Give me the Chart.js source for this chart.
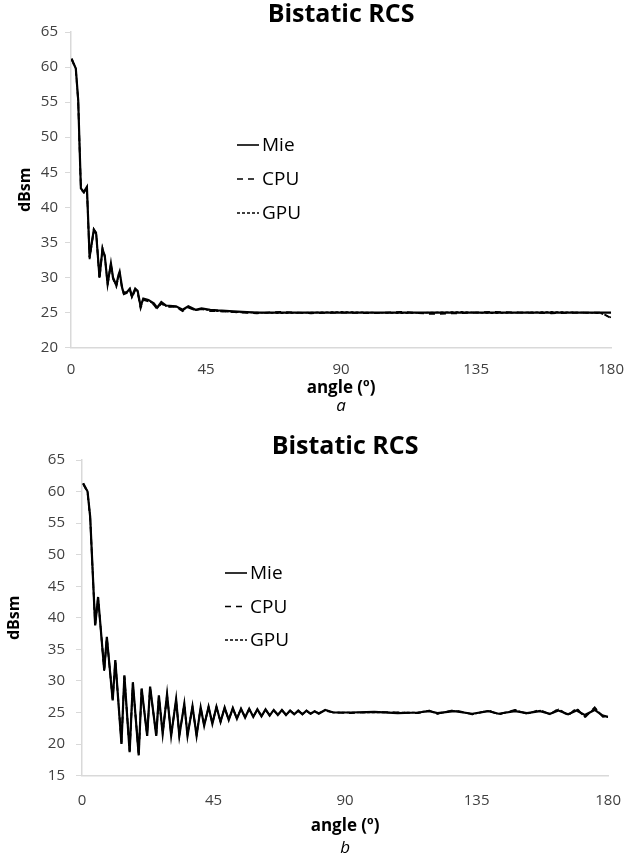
<!DOCTYPE html>
<html>
<head>
<meta charset="utf-8">
<script src="https://cdn.jsdelivr.net/npm/chart.js@4/dist/chart.umd.min.js"></script>
<style>
  body { margin: 0; background: #fff; }
  .box { position: absolute; left: 0; width: 637px; }
  #boxA { top: 0; height: 420px; }
  #boxB { top: 420px; height: 439px; }
</style>
</head>
<body>
<div class="box" id="boxA"><canvas id="chartA"></canvas></div>
<div class="box" id="boxB"><canvas id="chartB"></canvas></div>
<script>
// panel a
const anglesA = [0.2, 1.6, 2.4, 2.9, 3.3, 4.3, 5.3, 6.2, 7.6, 8.4, 9.5, 10.5, 11.3, 12.2, 13.3, 14.0, 15.1, 15.8, 16.2, 17.1,
  17.6, 18.6, 19.6, 20.3, 21.4, 22.2, 23.2, 24.1, 25.8, 27.6, 28.7, 30.1, 31.7, 35.0, 37.2, 39.1, 41.5, 43.5, 46.4, 49,
  52.8, 57, 62, 70, 80, 90, 100, 110, 120, 130, 140, 150, 160, 170, 176.5, 180];
const mieA = [61.2, 59.8, 55.3, 48.1, 42.7, 42.2, 42.9, 32.9, 36.8, 36.2, 30.0, 34.1, 32.9, 29.1, 32.0, 30.0, 28.9, 30.3, 30.8, 28.4,
  27.8, 27.9, 28.4, 27.3, 28.4, 28.1, 25.9, 27.0, 26.8, 26.3, 25.7, 26.5, 26.0, 25.9, 25.4, 25.9, 25.4, 25.6, 25.4, 25.3,
  25.2, 25.1, 25.0, 25.0, 25.0, 25.0, 25.0, 25.0, 25.0, 25.0, 25.0, 25.0, 25.0, 25.0, 25.0, 25.0];
const cpuA = [61.1, 59.7, 55.1, 48.0, 42.6, 42.1, 42.8, 32.6, 36.9, 36.4, 29.8, 34.2, 33.1, 28.9, 31.9, 29.8, 28.7, 30.1, 30.6, 28.2,
  27.6, 27.8, 28.3, 27.1, 28.2, 27.9, 25.6, 26.8, 26.6, 26.1, 25.5, 26.3, 25.8, 25.8, 25.2, 25.7, 25.3, 25.5, 25.2, 25.2,
  25.1, 25.0, 24.9, 25.1, 24.9, 25.0, 24.9, 25.1, 24.8, 24.9, 25.1, 25.0, 24.9, 25.0, 25.0, 24.2];
const gpuA = [61.2, 59.8, 55.2, 48.1, 42.7, 42.2, 42.9, 32.8, 36.7, 36.3, 29.9, 34.0, 33.0, 29.0, 32.1, 29.9, 28.8, 30.2, 30.7, 28.3,
  27.7, 27.9, 28.4, 27.2, 28.3, 28.0, 25.7, 26.9, 26.7, 26.2, 25.6, 26.4, 25.9, 25.8, 25.3, 25.8, 25.3, 25.5, 25.3, 25.2,
  25.1, 25.0, 25.0, 24.9, 25.0, 25.1, 25.0, 24.9, 25.0, 25.1, 24.9, 25.0, 25.1, 25.0, 24.9, 24.3];

// panel b
const anglesB = [0.4, 1.9, 2.8, 4.5, 5.5, 7.6, 8.5, 10.5, 11.4, 13.5, 14.5, 16.3, 17.4, 19.4, 20.4, 22.3, 23.3, 25.4, 26.3, 27.6,
  29.1, 30.5, 32.2, 33.3, 35.0, 36.1, 37.8, 39.2, 40.6, 41.8, 43.3, 44.6, 46.0, 47.4, 48.8, 50.2, 51.6, 53.0, 54.4, 55.8,
  57.2, 58.6, 60.0, 61.4, 62.8, 64.2, 65.6, 67.0, 68.4, 69.8, 71.2, 72.6, 74.0, 75.4, 76.8, 78.2, 79.6, 81.0, 83.2, 86,
  92, 100, 108, 115, 118.8, 121.6, 127.3, 133.5, 139.1, 142.5, 148.2, 152.2, 156.7, 160.1, 163, 166.3, 169.2, 172, 175.4, 178.2,
  180];
const mieB = [61.3, 60.0, 56.0, 38.8, 43.3, 31.7, 37.0, 26.9, 33.3, 20.0, 30.9, 18.7, 29.8, 18.2, 28.8, 21.3, 29.1, 21.3, 27.7, 21.6,
  27.9, 21.3, 27.1, 21.3, 26.4, 21.3, 26.0, 21.3, 25.8, 22.9, 25.9, 23.2, 25.9, 23.5, 25.8, 23.8, 25.7, 24.0, 25.6, 24.2,
  25.6, 24.3, 25.5, 24.4, 25.5, 24.5, 25.4, 24.6, 25.4, 24.6, 25.3, 24.7, 25.3, 24.7, 25.3, 24.8, 25.2, 24.8, 25.4, 25.0,
  25.0, 25.1, 24.9, 25.0, 25.2, 24.9, 25.2, 24.8, 25.2, 24.8, 25.2, 24.9, 25.2, 24.8, 25.3, 24.7, 25.3, 24.6, 25.4, 24.5,
  24.3];
const cpuB = [61.2, 59.9, 55.8, 38.9, 43.2, 31.8, 36.8, 27.1, 33.1, 20.3, 30.7, 18.9, 29.6, 18.4, 28.6, 21.5, 28.9, 21.5, 27.5, 21.8,
  27.7, 21.5, 26.9, 21.5, 26.2, 21.5, 25.8, 21.5, 25.7, 23.0, 25.8, 23.3, 25.8, 23.6, 25.7, 23.9, 25.6, 24.1, 25.5, 24.3,
  25.5, 24.4, 25.4, 24.5, 25.4, 24.6, 25.3, 24.7, 25.3, 24.7, 25.3, 24.8, 25.2, 24.8, 25.2, 24.8, 25.2, 24.9, 25.3, 25.0,
  24.9, 25.1, 25.0, 24.9, 25.3, 24.8, 25.4, 24.7, 25.3, 24.7, 25.4, 24.8, 25.4, 24.7, 25.6, 24.5, 25.7, 24.2, 25.8, 24.3,
  24.4];
const gpuB = [61.3, 60.0, 55.9, 38.7, 43.3, 31.6, 36.9, 27.0, 33.2, 20.1, 30.8, 18.8, 29.7, 18.3, 28.7, 21.4, 29.0, 21.4, 27.6, 21.7,
  27.8, 21.4, 27.0, 21.4, 26.3, 21.4, 25.9, 21.4, 25.8, 23.0, 25.9, 23.2, 25.9, 23.5, 25.8, 23.8, 25.7, 24.0, 25.6, 24.2,
  25.6, 24.3, 25.5, 24.4, 25.5, 24.5, 25.4, 24.6, 25.4, 24.6, 25.3, 24.7, 25.3, 24.7, 25.3, 24.8, 25.2, 24.8, 25.4, 25.0,
  25.0, 25.0, 25.0, 25.0, 25.3, 24.8, 25.3, 24.7, 25.3, 24.7, 25.4, 24.8, 25.3, 24.7, 25.5, 24.6, 25.6, 24.3, 25.7, 24.4,
  24.3];

const xTicks = [0, 45, 90, 135, 180];

const FONT = "'Open Sans', sans-serif";

function toPoints(xs, ys) {
  return xs.map((x, i) => ({ x: x, y: ys[i] }));
}

// legend drawn inside the plot, reading line styles from the datasets
const insideLegend = {
  id: 'insideLegend',
  afterDraw(chart, args, opts) {
    const ctx = chart.ctx;
    const area = chart.chartArea;
    chart.data.datasets.forEach((ds, i) => {
      const x = area.left + opts.dx;
      const y = area.top + opts.dy + i * opts.gap;
      ctx.save();
      ctx.strokeStyle = ds.borderColor;
      ctx.lineWidth = 1.6;
      ctx.setLineDash(ds.borderDash || []);
      ctx.beginPath();
      ctx.moveTo(x, y);
      ctx.lineTo(x + opts.lineLen, y);
      ctx.stroke();
      ctx.setLineDash([]);
      ctx.fillStyle = '#000';
      ctx.font = opts.font;
      ctx.textBaseline = 'middle';
      ctx.fillText(ds.label, x + opts.lineLen + 3, y + 1);
      ctx.restore();
    });
  }
};

function makeChart(id, cfg) {
  const datasets = [
    { label: 'Mie', data: toPoints(cfg.angles, cfg.mie), borderColor: '#000', borderWidth: 2.2, borderDash: [] },
    { label: 'CPU', data: toPoints(cfg.angles, cfg.cpu), borderColor: '#000', borderWidth: 1.8, borderDash: [6, 5] },
    { label: 'GPU', data: toPoints(cfg.angles, cfg.gpu), borderColor: '#000', borderWidth: 1.5, borderDash: [3, 2] }
  ];
  return new Chart(document.getElementById(id), {
    type: 'line',
    data: { datasets: datasets },
    plugins: [insideLegend],
    options: {
      responsive: true,
      maintainAspectRatio: false,
      animation: false,
      layout: { padding: { left: 0, right: cfg.padRight, top: 0, bottom: 0 } },
      elements: { point: { radius: 0 }, line: { tension: 0 } },
      plugins: {
        legend: { display: false },
        tooltip: { enabled: false },
        title: {
          display: true, text: 'Bistatic RCS', color: '#000', fullSize: false,
          font: { family: FONT, size: 25, weight: 'bold' },
          padding: cfg.titlePad
        },
        subtitle: {
          display: true, text: cfg.caption, position: 'bottom', fullSize: false, color: '#000',
          font: { family: FONT, size: 17, style: 'italic' },
          padding: cfg.capPad
        },
        insideLegend: {
          dx: cfg.legend.dx, dy: cfg.legend.dy, gap: cfg.legend.gap, lineLen: 22,
          font: '19px ' + FONT
        }
      },
      scales: {
        x: {
          type: 'linear', min: 0, max: 180,
          afterBuildTicks: (s) => { s.ticks = xTicks.map(v => ({ value: v })); },
          afterFit: (s) => { s.height = cfg.xHeight; },
          ticks: { color: '#404040', font: { family: FONT, size: 15 }, padding: cfg.xTickPad, maxRotation: 0 },
          grid: { drawOnChartArea: false, drawTicks: false },
          border: { color: '#d9d9d9', width: 1.5 },
          title: {
            display: true, text: 'angle (º)', color: '#000',
            font: { family: FONT, size: 17, weight: 'bold' },
            padding: { top: 0, bottom: cfg.xTitlePad }
          }
        },
        y: {
          min: cfg.yMin, max: 65,
          afterFit: (s) => { s.width = cfg.yWidth; },
          ticks: { stepSize: 5, color: '#404040', font: { family: FONT, size: 15 }, padding: cfg.yTickPad },
          grid: { drawOnChartArea: false, drawTicks: true, tickLength: 6, color: '#d9d9d9' },
          border: { color: '#d9d9d9', width: 1.5 },
          title: {
            display: true, text: 'dBsm', color: '#000',
            font: { family: FONT, size: 16, weight: 'bold' },
            padding: { top: cfg.yTitlePad, bottom: 0 }
          }
        }
      }
    }
  });
}

makeChart('chartA', {
  angles: anglesA, mie: mieA, cpu: cpuA, gpu: gpuA, yMin: 20, caption: 'a',
  padRight: 14, yWidth: 71, xHeight: 48,
  titlePad: { top: 0, bottom: 2 }, capPad: { top: 0, bottom: 4 },
  xTickPad: 13, xTitlePad: -3, yTickPad: 7, yTitlePad: 16,
  legend: { dx: 166, dy: 113, gap: 34 }
});

makeChart('chartB', {
  angles: anglesB, mie: mieB, cpu: cpuB, gpu: gpuB, yMin: 15, caption: 'b',
  padRight: 25, yWidth: 82, xHeight: 62,
  titlePad: { top: 12, bottom: -2 }, capPad: { top: 0, bottom: 1 },
  xTickPad: 16, xTitlePad: 1, yTickPad: 11, yTitlePad: 5,
  legend: { dx: 143, dy: 113, gap: 33.5 }
});
</script>
</body>
</html>
